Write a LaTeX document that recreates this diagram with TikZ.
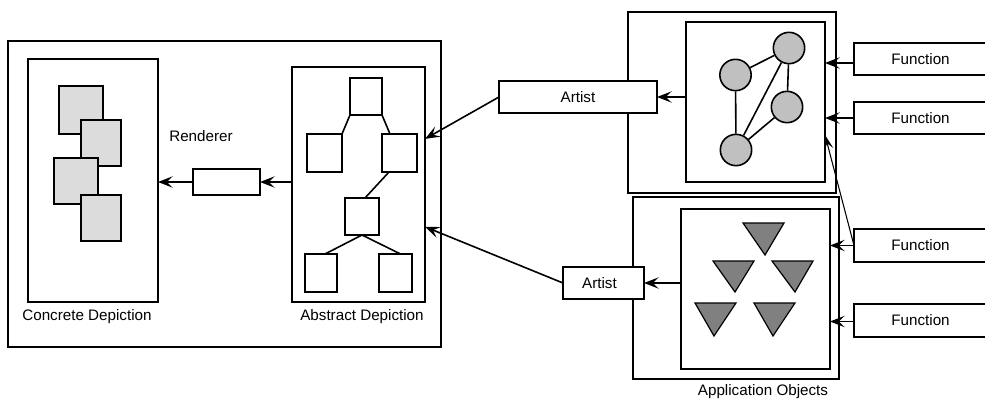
\documentclass[tikz,border=0pt]{standalone}
\usepackage{fontspec}
\setmainfont{Liberation Sans}
\usetikzlibrary{fit,arrows.meta,calc}
\definecolor{sqgray}{HTML}{DCDCDC}
\definecolor{cgray}{HTML}{C0C0C0}
\definecolor{tgray}{HTML}{808080}
\tikzset{
  box/.style={draw, line width=1.2pt, inner sep=0pt, outer sep=0pt, fill=white},
  lbl/.style={font=\fontsize{11.4}{13}\selectfont, inner sep=0pt},
  arr/.style={line width=1.2pt, -{Stealth[length=11pt, width=8.5pt, inset=4.5pt]}},
  thinarr/.style={line width=0.8pt, -{Stealth[length=11pt, width=7pt, inset=4.5pt]}},
  edge/.style={line width=1.2pt},
  gc/.style={circle, draw, line width=1.2pt, fill=cgray, minimum size=23.5pt, inner sep=0pt},
  tri/.style={draw, line width=0.9pt, fill=tgray},
}
\begin{document}
\begin{tikzpicture}[x=0.75pt,y=-0.75pt]
\useasboundingbox (0,0) rectangle (985,399);
% left big box
\node[box, fit={(8,41) (441,347)}] (big) {};
\node[box, fit={(28,59) (158,302)}] (concrete) {};
\node[box, fill=sqgray, fit={(59,86) (103,134)}] (sq1) {};
\node[box, fill=sqgray, fit={(81,120) (121,166)}] (sq2) {};
\node[box, fill=sqgray, fit={(54,158) (98,204)}] (sq3) {};
\node[box, fill=sqgray, fit={(81,195) (121,241)}] (sq4) {};
\node[lbl] (concretelbl) at (87,317) {Concrete Depiction};
\node[box, fit={(292,67) (425,302)}] (abstract) {};
\node[lbl] (abstractlbl) at (362,317) {Abstract Depiction};
% tree
\node[box, fit={(350,78) (382,115)}] (ttop) {};
\node[box, fit={(307,134) (342,172)}] (tleft) {};
\node[box, fit={(382,134) (417,172)}] (tright) {};
\node[box, fit={(345,198) (379,235)}] (tmid) {};
\node[box, fit={(305,254) (337,292)}] (tbl) {};
\node[box, fit={(379,254) (412,292)}] (tbr) {};
\draw[edge] (ttop.south west) -- (tleft.north east);
\draw[edge] (ttop.south east) -- ($(tright.north west)+(8,0)$);
\draw[edge] ($(tright.south west)+(7,0)$) -- ($(tmid.north)+(3,0)$);
\draw[edge] (tmid.south) -- ($(tbl.north)+(4,0)$);
\draw[edge] (tmid.south) -- ($(tbr.north)+(5,0)$);
% renderer
\node[lbl] (rendererlbl) at (201,136) {Renderer};
\node[box, fit={(193,169) (260,195)}] (renderer) {};
\draw[arr] (abstract.west |- renderer.west) -- (renderer.east);
\draw[arr] (renderer.west) -- (concrete.east |- renderer.west);
% upper application object
\node[box, fit={(628,12) (836,193)}] (upouter) {};
\node[box, fit={(686,22) (825,182)}] (upinner) {};
\node[gc] (c1) at (735.5,75) {};
\node[gc] (c2) at (789,48) {};
\node[gc] (c3) at (787,107) {};
\node[gc] (c4) at (736,150) {};
\draw[edge] (c1) -- (c2);
\draw[edge] (c1) -- (c4);
\draw[edge] (c2) -- (c4);
\draw[edge] (c2) -- (c3);
\draw[edge] (c3) -- (c4);
\node[box, fit={(499,81) (657,113)}] (artist1) {};
\node[lbl] at (artist1.center) {Artist};
% lower application object
\node[box, fit={(633,197) (839,379)}] (lowouter) {};
\node[box, fit={(681,209) (830,369)}] (lowinner) {};
\draw[tri] (743,223) -- (784,223) -- (765,255) -- cycle;
\draw[tri] (713,261) -- (754,261) -- (735,292) -- cycle;
\draw[tri] (772,261) -- (813,261) -- (795,292) -- cycle;
\draw[tri] (695,303) -- (736,303) -- (714,336) -- cycle;
\draw[tri] (754,303) -- (795,303) -- (773,336) -- cycle;
\node[box, fit={(563,267) (644,299)}] (artist2) {};
\node[lbl] at ($(artist2.center)+(-4,0)$) {Artist};
\node[lbl] (applbl) at (763,392) {Application Objects};
% artist arrows
\coordinate (abin1) at ($(abstract.north east)!0.306!(abstract.south east)$);
\coordinate (abin2) at ($(abstract.north east)!0.68!(abstract.south east)$);
\draw[arr] (upinner.west |- artist1.east) -- (artist1.east);
\draw[arr] (artist1.west) -- (abin1);
\draw[arr] (lowinner.west |- artist2.east) -- (artist2.east);
\draw[arr] (artist2.west) -- (abin2);
% functions
\node[box, fit={(854,43) (987,75)}] (f1) {};
\node[lbl] at (f1.center) {Function};
\node[box, fit={(854,102) (987,134)}] (f2) {};
\node[lbl] at (f2.center) {Function};
\node[box, fit={(854,229) (987,262)}] (f3) {};
\node[lbl] at (f3.center) {Function};
\node[box, fit={(854,304) (987,337)}] (f4) {};
\node[lbl] at (f4.center) {Function};
\coordinate (upin3) at ($(upinner.north east)!0.706!(upinner.south east)$);
\draw[arr] ($(f1.west)+(0,4)$) -- (upinner.east |- {$(f1.west)+(0,4)$});
\draw[arr] (f2.west) -- (upinner.east |- f2.west);
\draw[arr] (f3.west) -- (lowinner.east |- f3.west);
\draw[thinarr] (f3.west) -- (upin3);
\draw[arr] ($(f4.west)+(0,1)$) -- (lowinner.east |- {$(f4.west)+(0,1)$});
\end{tikzpicture}
\end{document}
